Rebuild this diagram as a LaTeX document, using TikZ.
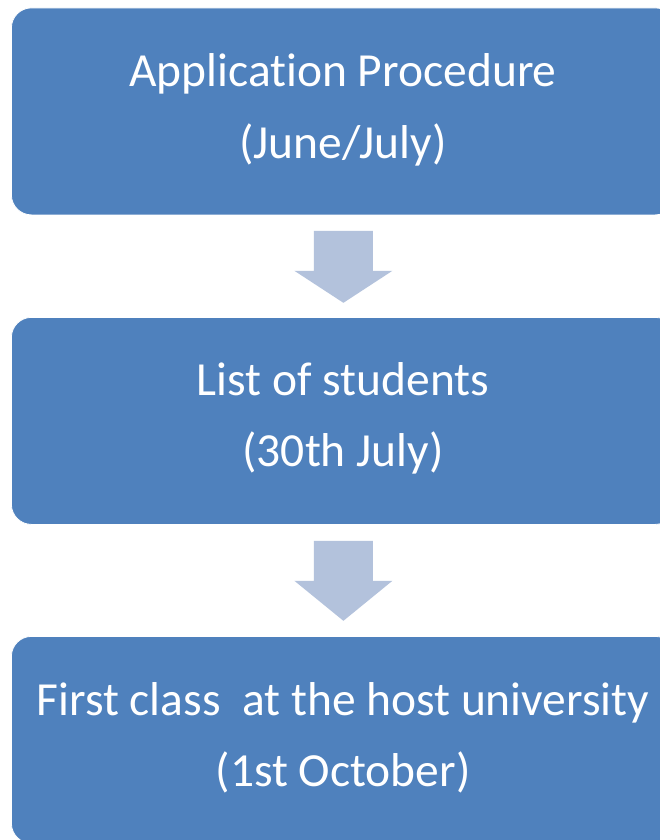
\documentclass[tikz,border=0pt]{standalone}
\usepackage{fontspec}
\setmainfont{Carlito}[RawFeature={-liga;-clig;-calt;-dlig}]
\usetikzlibrary{calc}
\definecolor{boxblue}{HTML}{4F81BD}
\definecolor{arrowblue}{HTML}{B3C2DC}
\tikzset{
  stagebox/.style={fill=boxblue, draw=white, line width=0.8pt,
    rounded corners=20pt, minimum width=664pt, minimum height=207pt,
    anchor=north west, inner sep=0pt},
  stagetext/.style={text=white, font=\fontsize{47.5}{56}\selectfont,
    anchor=base, inner sep=0pt},
  blockarrow/.style={fill=arrowblue, draw=none}
}
\begin{document}
\begin{tikzpicture}[x=1pt, y=-1pt]
  \useasboundingbox (0,0) rectangle (660,840);
  \clip (0,0) rectangle (660,840);
  \fill[white] (0,0) rectangle (660,840);

  % the three stages
  \node[stagebox] (s1) at (11,7.5) {};
  \node[stagebox] (s2) at (11,317) {};
  \node[stagebox] (s3) at (11,636) {};

  \node[stagetext] (t1a) at (343,87)  {Applicat\kern0pt ion Procedure};
  \node[stagetext] (t1b) at (343,158) {(June/July)};
  \node[stagetext] (t2a) at (343,395) {List of students};
  \node[stagetext] (t2b) at (343,466) {(30th July)};
  \node[stagetext] (t3a) at (343,715) {First class\ \ at the host university};
  \node[stagetext] (t3b) at (343,786) {(1st October)};

  % block arrows between the stages: start point, tip length
  \coordinate (a1) at ($(s1.south)+(0,15.5)$);
  \coordinate (a2) at ($(s2.south)+(0,16)$);
  \foreach \a/\len in {a1/72,a2/80} {
    \fill[blockarrow]
      ($(\a)+(-29.5,0)$) -- ($(\a)+(29.5,0)$) -- ($(\a)+(29.5,40)$)
      -- ($(\a)+(49,40)$) -- ($(\a)+(0,\len)$) -- ($(\a)+(-49,40)$)
      -- ($(\a)+(-29.5,40)$) -- cycle;
  }
\end{tikzpicture}
\end{document}
